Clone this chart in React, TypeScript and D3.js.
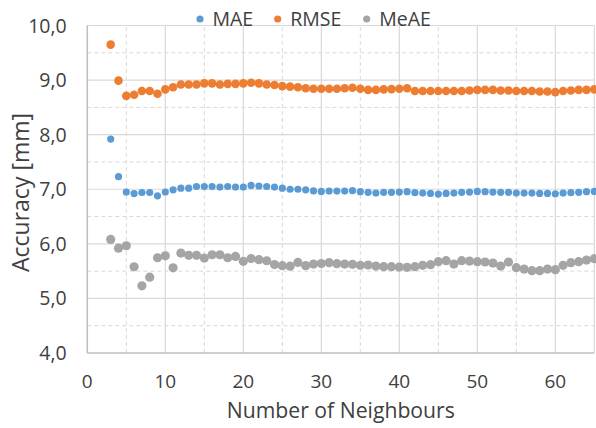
import React from "react";
import * as d3 from "d3";

const neighbours: number[] = d3.range(3, 66);

const maeValues: number[] = [
  7.92, 7.23, 6.95, 6.92, 6.94, 6.94, 6.88, 6.95, 6.99, 7.02,
  7.02, 7.05, 7.05, 7.05, 7.04, 7.05, 7.04, 7.04, 7.07, 7.06,
  7.05, 7.04, 7.02, 7.0, 7.0, 6.99, 6.97, 6.96, 6.967, 6.967,
  6.967, 6.973, 6.955, 6.943, 6.93, 6.943, 6.943, 6.949, 6.955, 6.937,
  6.93, 6.924, 6.912, 6.924, 6.93, 6.943, 6.949, 6.961, 6.955, 6.949,
  6.943, 6.943, 6.93, 6.93, 6.93, 6.924, 6.924, 6.918, 6.93, 6.937,
  6.943, 6.955, 6.961,
];

const rmseValues: number[] = [
  9.65, 8.99, 8.71, 8.73, 8.8, 8.8, 8.75, 8.83, 8.87, 8.92,
  8.92, 8.92, 8.94, 8.94, 8.92, 8.93, 8.93, 8.94, 8.95, 8.94,
  8.92, 8.91, 8.89, 8.88, 8.87, 8.85, 8.84, 8.84, 8.84, 8.84,
  8.85, 8.86, 8.84, 8.82, 8.82, 8.83, 8.835, 8.84, 8.85, 8.8,
  8.8, 8.8, 8.8, 8.8, 8.8, 8.8, 8.81, 8.82, 8.82, 8.82,
  8.81, 8.81, 8.8, 8.8, 8.8, 8.79, 8.79, 8.78, 8.8, 8.81,
  8.82, 8.82, 8.83,
];

const meaeValues: number[] = [
  6.08, 5.92, 5.965, 5.58, 5.23, 5.39, 5.745, 5.78, 5.56, 5.83,
  5.79, 5.79, 5.74, 5.8, 5.8, 5.745, 5.77, 5.68, 5.73, 5.71,
  5.69, 5.62, 5.6, 5.59, 5.66, 5.6, 5.63, 5.64, 5.654, 5.636,
  5.63, 5.624, 5.606, 5.612, 5.593, 5.581, 5.581, 5.575, 5.569, 5.581,
  5.606, 5.618, 5.673, 5.691, 5.63, 5.691, 5.685, 5.673, 5.667, 5.648,
  5.593, 5.667, 5.563, 5.538, 5.508, 5.508, 5.538, 5.526, 5.606, 5.654,
  5.673, 5.703, 5.728,
];

const yTicks: number[] = [4, 5, 6, 7, 8, 9, 10];
const yMinorTicks: number[] = [4.5, 5.5, 6.5, 7.5, 8.5, 9.5];
const xTicks: number[] = [0, 10, 20, 30, 40, 50, 60];
const xMinorTicks: number[] = [5, 15, 25, 35, 45, 55];

const seriesNames: string[] = ["MAE", "RMSE", "MeAE"];
const seriesColors: string[] = ["#5B9BD5", "#ED7D31", "#A5A5A5"];
const seriesRadius: number[] = [3.6, 4.3, 4.6];
const seriesData: number[][] = [maeValues, rmseValues, meaeValues];

const W = 596;
const H = 428;
const FONT = "'Open Sans', sans-serif";
const TEXT = "#404040";
const GRID = "#d9d9d9";

export default function App() {
  const x = d3.scaleLinear().domain([0, 65]).range([87.3, 594.3]);
  const y = d3.scaleLinear().domain([4, 10]).range([353, 25.5]);
  const fmt = (v: number) => v.toFixed(1).replace(".", ",");

  const legendMarkerX = [200, 277.7, 366.7];

  return (
    <svg
      width={W}
      height={H}
      style={{ position: "absolute", left: 0, top: 0, background: "#fff" }}
      fontFamily={FONT}
    >
      <rect width={W} height={H} fill="#fff" />
      {yMinorTicks.map((t) => (
        <line key={"ym" + t} x1={x(0)} x2={x(65)} y1={y(t)} y2={y(t)} stroke={GRID} strokeWidth={1} strokeDasharray="4,3" />
      ))}
      {xMinorTicks.map((t) => (
        <line key={"xm" + t} x1={x(t)} x2={x(t)} y1={y(4)} y2={y(10)} stroke={GRID} strokeWidth={1} strokeDasharray="4,3" />
      ))}
      {yTicks.filter((t) => t > 4).map((t) => (
        <line key={"yM" + t} x1={x(0)} x2={x(65)} y1={y(t)} y2={y(t)} stroke={GRID} strokeWidth={1.2} />
      ))}
      {xTicks.filter((t) => t > 0).map((t) => (
        <line key={"xM" + t} x1={x(t)} x2={x(t)} y1={y(4)} y2={y(10)} stroke={GRID} strokeWidth={1.2} />
      ))}
      <line x1={x(65)} x2={x(65)} y1={y(4)} y2={y(10)} stroke={GRID} strokeWidth={1.2} />
      <line x1={x(0)} x2={x(0)} y1={y(4)} y2={y(10)} stroke="#bfbfbf" strokeWidth={1.5} />
      <line x1={x(0)} x2={x(65)} y1={y(4)} y2={y(4)} stroke="#bfbfbf" strokeWidth={1.5} />

      {yTicks.map((t) => (
        <text key={"yl" + t} x={66.7} y={y(t) + 7} textAnchor="end" fontSize={19.5} fill={TEXT}>
          {fmt(t)}
        </text>
      ))}
      {xTicks.map((t) => (
        <text key={"xl" + t} x={x(t)} y={388.3} textAnchor="middle" fontSize={19} fill={TEXT}>
          {t}
        </text>
      ))}

      <text x={340.8} y={418.3} textAnchor="middle" fontSize={21.2} fill={TEXT}>
        Number of Neighbours
      </text>
      <text
        transform={`translate(28.5, 192.5) rotate(-90)`}
        textAnchor="middle"
        fontSize={23}
        fill={TEXT}
      >
        Accuracy [mm]
      </text>

      {seriesData.map((vals, si) => (
        <g key={"s" + si}>
          {vals.map((v, i) => (
            <circle key={i} cx={x(neighbours[i])} cy={y(v)} r={seriesRadius[si]} fill={seriesColors[si]} />
          ))}
        </g>
      ))}

      {seriesNames.map((n, i) => (
        <g key={"lg" + n}>
          <circle cx={legendMarkerX[i]} cy={19} r={3.6} fill={seriesColors[i]} />
          <text x={legendMarkerX[i] + 12.5} y={25.7} fontSize={19.5} fill={TEXT}>
            {n}
          </text>
        </g>
      ))}
    </svg>
  );
}
